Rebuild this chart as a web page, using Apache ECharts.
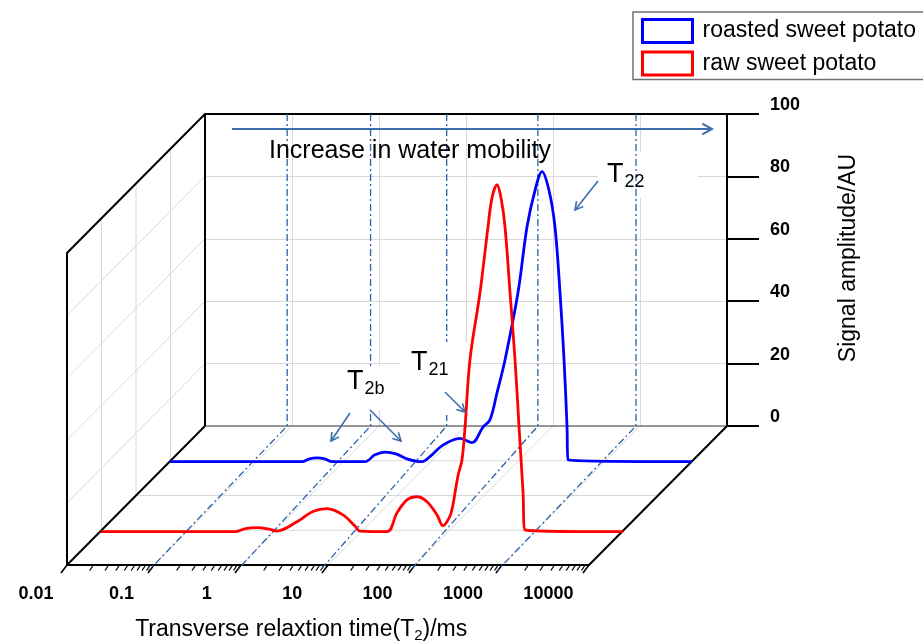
<!DOCTYPE html>
<html><head><meta charset="utf-8">
<script src="https://cdn.jsdelivr.net/npm/echarts@6/dist/echarts.min.js"></script>
<style>html,body{margin:0;padding:0;background:#fff}#c{width:923px;height:644px}</style>
</head><body><div id="c"></div>
<script>
// ---------- data (T2 in ms, amplitude in AU) ----------
const roastedT2  = [0.01, 0.33, 0.40, 0.49, 0.60, 0.73, 1.74, 2.27, 2.96, 3.96, 5.3, 6.9, 7.9, 9.7, 13.7, 21.5, 29.6, 39.6, 47.6, 57.4, 71, 100, 127, 157, 189, 227, 266, 304, 338, 366, 376, 10000];
const roastedAmp = [0,    0,    0.9,  1.2,  0.9,  0,    0,    2.2,  3.1,  2.5,  0.9, 0.1, 0,   1.6, 5.3,  7.5,  6.1,  11.1, 13.4, 22.1, 32.7, 54.2, 75.3, 87, 93, 87, 75.3, 54.2, 32.7, 11.2, 0.6, 0];
const rawT2  = [0.01, 0.35, 0.46, 0.62, 0.83, 1.05, 1.79, 2.73, 3.96, 6.05, 8.31, 9.5, 19.4, 25.2, 32.9, 42.9, 55.8, 72.8, 85.3, 102, 110, 127, 141, 153, 174, 227, 281, 312, 356, 396, 440, 503, 574, 638, 710, 748, 10000];
const rawAmp = [0,    0,    1.0,  1.3,  0.9,  0.2,  3.2,  6.5,  7.4,  5.4,  1.8,  0.2, 0,    6,    10.2, 11.2, 9.6,  5.4,  1.9,  4.8, 8,   18,  23,  33.7, 55,  76.6, 97.8, 107, 111.2, 107, 97.8, 76.6, 55.1, 33.7, 12.5, 0.6, 0];
const seriesNames = ['roasted sweet potato', 'raw sweet potato'];
const xTickLabels = ['0.01', '0.1', '1', '10', '100', '1000', '10000'];
const xDecades = [0.01, 0.1, 1, 10, 100, 1000, 10000];
const yGridValues = [20, 40, 60, 80];
const depthRows = [0.25, 0.5, 0.75];
const dashBackT2  = [0.088, 0.8, 6, 67, 900];
const dashFrontT2 = [0.1, 1.03, 9.2, 100, 1020];

const FONT = '"Liberation Sans", Arial, sans-serif';
const X_MIN = 0.01, X_MAX = 10000;
const GRID_C = '#d9d9d9';

function hiddenLog(gi) {
  return {type: 'log', gridIndex: gi, min: X_MIN, max: X_MAX, logBase: 10,
    axisLine: {show: false}, axisTick: {show: false}, axisLabel: {show: false}, splitLine: {show: false}};
}
function hiddenVal(gi) {
  return {type: 'value', gridIndex: gi, min: 0, max: 100, show: false, splitLine: {show: false}};
}

const chart = echarts.init(document.getElementById('c'), null, {renderer: 'canvas'});
const option = {
  animation: false,
  backgroundColor: '#fff',
  textStyle: {fontFamily: FONT},
  legend: {
    orient: 'vertical', left: 633, top: 12,
    padding: [6, 30, 3, 8],
    itemWidth: 50, itemHeight: 23, itemGap: 6.5,
    borderColor: '#707070', borderWidth: 1.5,
    textStyle: {fontSize: 23, color: '#000', fontFamily: FONT, padding: [0, 0, 0, 5]},
    data: [
      {name: seriesNames[0], icon: 'rect', itemStyle: {color: '#fff', borderColor: '#0000ff', borderWidth: 3}},
      {name: seriesNames[1], icon: 'rect', itemStyle: {color: '#fff', borderColor: '#ff0000', borderWidth: 3}}
    ]
  },
  grid: [
    {left: 205, top: 114, width: 522, height: 312},     // back wall
    {left: 170, top: 149.7, width: 522, height: 312},   // roasted row
    {left: 101, top: 219.7, width: 522, height: 312},   // raw row
    {left: 67, top: 253, width: 522, height: 312},      // front plane
    {left: 36, top: 253, width: 512.4, height: 312}     // front tick labels
  ],
  xAxis: [
    Object.assign(hiddenLog(0), {splitLine: {show: true, lineStyle: {color: GRID_C, width: 1}}}),
    hiddenLog(1),
    hiddenLog(2),
    Object.assign(hiddenLog(3), {axisLine: {show: true, onZero: false, lineStyle: {color: '#000', width: 2}}}),
    {type: 'category', gridIndex: 4, data: xTickLabels, boundaryGap: false,
      axisLine: {show: false}, axisTick: {show: false}, splitLine: {show: false},
      axisLabel: {fontSize: 18, fontWeight: 'bold', color: '#000', margin: 22, fontFamily: FONT},
      name: 'Transverse relaxtion time(T{sub|2})/ms', nameLocation: 'middle', nameGap: 53,
      nameTextStyle: {fontSize: 23, color: '#000', fontFamily: FONT, padding: [0, 0, 0, 18],
        rich: {sub: {fontSize: 15, color: '#000', fontFamily: FONT, padding: [12, 0, 0, 0]}}}}
  ],
  yAxis: [
    {type: 'value', gridIndex: 0, min: 0, max: 100, interval: 20, position: 'right',
      axisLine: {show: true, lineStyle: {color: '#000', width: 2}},
      axisTick: {show: true, inside: false, length: 32, lineStyle: {color: '#000', width: 2}},
      axisLabel: {margin: 43, fontSize: 18, fontWeight: 'bold', color: '#000', fontFamily: FONT, align: 'left', verticalAlign: 'bottom'},
      splitLine: {show: true, lineStyle: {color: GRID_C, width: 1}},
      name: 'Signal amplitude/AU', nameLocation: 'middle', nameRotate: 90, nameGap: 110,
      nameTextStyle: {fontSize: 23, color: '#000', fontFamily: FONT, padding: [0, 0, 0, 24]}},
    hiddenVal(1), hiddenVal(2), hiddenVal(3), {type: 'value', gridIndex: 4, show: false}
  ],
  series: [
    {type: 'line', name: seriesNames[0], xAxisIndex: 1, yAxisIndex: 1,
      data: roastedT2.map((t, i) => [t, roastedAmp[i]]),
      symbol: 'none', smooth: 0.35, clip: false, z: 3,
      lineStyle: {color: '#0000ff', width: 2.8}, itemStyle: {color: '#0000ff'}},
    {type: 'line', name: seriesNames[1], xAxisIndex: 2, yAxisIndex: 2,
      data: rawT2.map((t, i) => [t, rawAmp[i]]),
      symbol: 'none', smooth: 0.35, clip: false, z: 4,
      lineStyle: {color: '#ff0000', width: 2.8}, itemStyle: {color: '#ff0000'}}
  ]
};
chart.setOption(option);

// ---------- perspective frame built from the axes ----------
const back  = (v, a) => chart.convertToPixel({gridIndex: 0}, [v, a]);
const front = (v, a) => chart.convertToPixel({gridIndex: 3}, [v, a]);
const lerp = (p, q, f) => [p[0] + (q[0] - p[0]) * f, p[1] + (q[1] - p[1]) * f];
const g = [];
function seg(p, q, stroke, w, z, dash) {
  g.push({type: 'line', silent: true, z: z, shape: {x1: p[0], y1: p[1], x2: q[0], y2: q[1]},
    style: {stroke: stroke, lineWidth: w, lineDash: dash || null}});
}
function poly(pts, stroke, w, z, dash) {
  g.push({type: 'polyline', silent: true, z: z, shape: {points: pts},
    style: {stroke: stroke, lineWidth: w, fill: null, lineDash: dash || null}});
}
// left wall grid
yGridValues.forEach(a => seg(front(X_MIN, a), back(X_MIN, a), GRID_C, 1, 0));
depthRows.forEach(f => seg(lerp(front(X_MIN, 0), back(X_MIN, 0), f), lerp(front(X_MIN, 100), back(X_MIN, 100), f), GRID_C, 1, 0));
// floor grid
depthRows.forEach(f => seg(lerp(front(X_MIN, 0), back(X_MIN, 0), f), lerp(front(X_MAX, 0), back(X_MAX, 0), f), GRID_C, 1, 0));
xDecades.slice(1, -1).forEach(v => seg(front(v, 0), back(v, 0), GRID_C, 1, 0));
// edges
seg(back(X_MIN, 0), back(X_MAX, 0), '#7a7a7a', 1.5, 1);
poly([front(X_MIN, 0), front(X_MIN, 100), back(X_MIN, 100), back(X_MAX, 100)], '#000', 2, 1);
seg(back(X_MIN, 100), back(X_MIN, 0), '#000', 2, 1);
seg(front(X_MIN, 0), back(X_MIN, 0), '#000', 2, 1);
seg(front(X_MAX, 0), back(X_MAX, 0), '#000', 2, 1);
// front axis ticks (slanted)
xDecades.forEach((v, k) => {
  const p = front(v, 0);
  seg(p, [p[0] - 6, p[1] + 8], '#000', 1.6, 1);
  if (k < xDecades.length - 1) {
    for (let m = 2; m <= 9; m++) {
      const q = front(v * m, 0);
      seg([q[0] - 0.5, q[1] + 1], [q[0] - 3.5, q[1] + 5.5], '#000', 1.3, 1);
    }
  }
});
// dash-dot guide lines
const DASH_C = '#2a62ad';
dashBackT2.forEach((vb, i) => {
  const p0 = back(vb, 100), p1 = back(vb, 0), p2 = front(dashFrontT2[i], 0);
  const d = [p2[0] - p1[0], p2[1] - p1[1]], L = Math.hypot(d[0], d[1]);
  const p3 = [p2[0] + d[0] / L * 8, p2[1] + d[1] / L * 8];
  poly([p0, p1, p3], DASH_C, 1.3, 2, [7, 3, 2, 3]);
});
// white label boxes
function box(x, y, w, h, z) {
  g.push({type: 'rect', silent: true, z: z, shape: {x: x, y: y, width: w, height: h}, style: {fill: '#fff'}});
}
box(598, 152, 100, 46, 1.5);
box(400, 342, 67, 73, 2.5);
box(335, 366, 63, 44, 2.5);
// arrows
const ARROW_C = '#3b6eaa';
function arrow(x1, y1, x2, y2, w, len) {
  const ang = Math.atan2(y2 - y1, x2 - x1);
  const a1 = ang + Math.PI - 0.5, a2 = ang + Math.PI + 0.5;
  seg([x1, y1], [x2, y2], ARROW_C, w, 6);
  poly([[x2 + len * Math.cos(a1), y2 + len * Math.sin(a1)], [x2, y2], [x2 + len * Math.cos(a2), y2 + len * Math.sin(a2)]], ARROW_C, w, 6);
}
arrow(232, 129, 712, 129, 2, 11);
arrow(598, 181, 575, 210, 1.6, 9);
arrow(445, 392, 465, 412, 1.6, 9);
arrow(350, 413, 331, 441, 1.6, 9);
arrow(370, 410, 401, 441, 1.6, 9);
// annotation texts
function tlabel(x, y, sub) {
  g.push({type: 'text', silent: true, z: 7, x: x, y: y,
    style: {text: 'T{s|' + sub + '}', fill: '#000', fontSize: 27, fontFamily: FONT, align: 'left', verticalAlign: 'middle',
      rich: {s: {fontSize: 18, fontFamily: FONT, fill: '#000', padding: [15, 0, 0, 1]}}}});
}
tlabel(607, 175, '22');
tlabel(411, 363, '21');
tlabel(347, 382, '2b');
g.push({type: 'text', silent: true, z: 7, x: 269, y: 151,
  style: {text: 'Increase in water mobility', fill: '#000', fontSize: 25, fontFamily: FONT, align: 'left', verticalAlign: 'middle'}});

chart.setOption({graphic: g});
</script>
</body></html>
